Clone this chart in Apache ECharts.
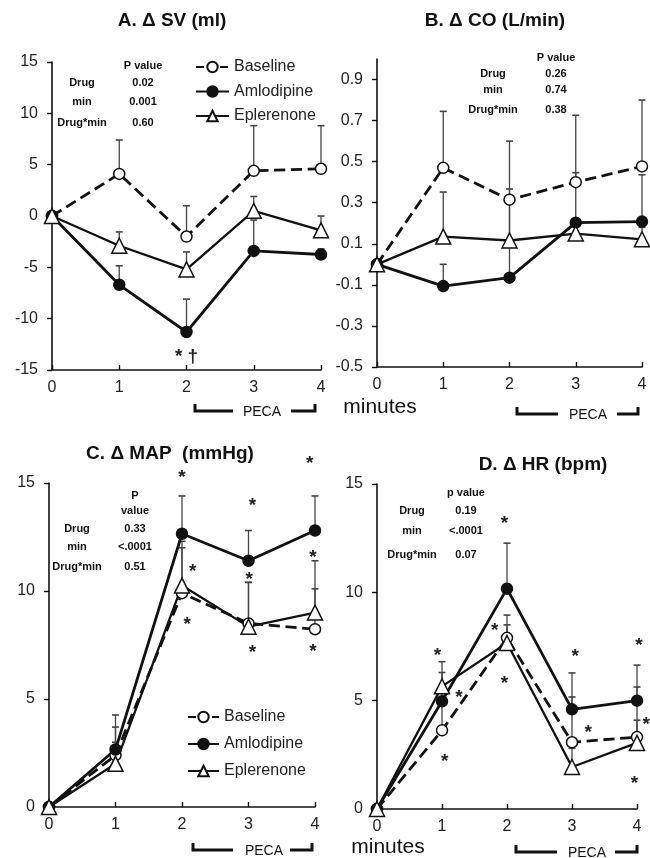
<!DOCTYPE html>
<html>
<head>
<meta charset="utf-8">
<title>SV, CO, MAP, HR</title>
<script src="https://cdn.jsdelivr.net/npm/echarts@6.0.0/dist/echarts.min.js"></script>
<style>
  html, body { margin: 0; padding: 0; background: #fff; }
  #chart { width: 650px; height: 858px; }
</style>
</head>
<body>
<div id="chart"></div>
<script>
const minuts = [0, 1, 2, 3, 4];
const noms = ['Baseline', 'Amlodipine', 'Eplerenone'];
const filesP = ['Drug', 'min', 'Drug*min'];

// A. SV (ml)
const svBaseline = [0, 4.1, -2.0, 4.4, 4.6];
const svBaselineErr = [0, 7.4, 1.0, 8.8, 8.8];
const svAmlo = [0, -6.7, -11.3, -3.4, -3.75];
const svAmloErr = [0, -4.85, -8.1, -0.4, -3.2];
const svEpl = [0, -2.9, -5.2, 0.5, -1.4];
const svEplErr = [0, -1.55, -3.5, 1.9, 0.0];
const svP = ['0.02', '0.001', '0.60'];
const svMarques = [[2, -13.2, '* \u2020']];

// B. CO (L/min)
const coBaseline = [0, 0.47, 0.315, 0.40, 0.477];
const coBaselineErr = [0, 0.745, 0.60, 0.726, 0.80];
const coAmlo = [0, -0.106, -0.065, 0.203, 0.208];
const coAmloErr = [0, 0.0, 0.367, 0.446, 0.436];
const coEpl = [0, 0.135, 0.116, 0.15, 0.122];
const coEplErr = [0, 0.352, 0.30, 0.19, 0.18];
const coP = ['0.26', '0.74', '0.38'];
const coTicks = [-0.5, -0.3, -0.1, 0.1, 0.3, 0.5, 0.7, 0.9];

// C. MAP (mmHg)
const mapBaseline = [0, 2.4, 9.9, 8.5, 8.23];
const mapBaselineErr = [0, 3.7, 12.0, 10.4, 10.1];
const mapAmlo = [0, 2.66, 12.65, 11.4, 12.8];
const mapAmloErr = [0, 4.26, 14.4, 12.8, 14.4];
const mapEpl = [0, 2.0, 10.25, 8.35, 9.0];
const mapEplErr = [0, 3.0, 12.3, 10.4, 11.4];
const mapP = ['0.33', '<.0001', '0.51'];
const mapMarques = [
  [2.0, 15.46, '*'], [2.16, 11.13, '*'], [2.08, 8.66, '*'],
  [3.06, 14.2, '*'], [3.01, 10.75, '*'], [3.06, 7.35, '*'],
  [3.92, 16.1, '*'], [3.97, 11.75, '*'], [3.97, 7.42, '*']
];

// D. HR (bpm)
const hrBaseline = [0, 3.63, 7.9, 3.08, 3.32];
const hrBaselineErr = [0, 5.0, 8.95, 5.17, 5.63];
const hrAmlo = [0, 4.97, 10.17, 4.6, 5.0];
const hrAmloErr = [0, 6.8, 12.27, 6.28, 6.64];
const hrEpl = [0, 5.66, 7.66, 1.94, 3.05];
const hrEplErr = [0, 6.3, 8.5, 2.8, 4.1];
const hrP = ['0.19', '<.0001', '0.07'];
const hrMarques = [
  [0.93, 7.32, '*'], [1.26, 5.35, '*'], [1.04, 2.43, '*'],
  [1.96, 13.38, '*'], [1.81, 8.48, '*'], [1.96, 6.0, '*'],
  [3.05, 7.25, '*'], [3.25, 3.74, '*'],
  [4.03, 7.77, '*'], [4.14, 4.12, '*'], [3.96, 1.38, '*']
];

const FONT = '"Liberation Sans", Arial, sans-serif';
const NEGRE = '#111';

const panells = [
  {
    titol: 'A. \u0394 SV (ml)', titolPos: [172, 21],
    grid: { left: 52, top: 62, width: 269, height: 308 },
    y: { min: -15, max: 15, interval: 5 },
    valors: [svBaseline, svAmlo, svEpl], errors: [svBaselineErr, svAmloErr, svEplErr],
    marques: svMarques, p: svP, pCap: ['P value'], pCapY: 66, pFiles: [83, 102, 123], pLabelX: 82, pValX: 143,
    peca: { x1: 195, xt1: 233, xc: 262, xt2: 291, x2: 315, y: 411 }
  },
  {
    titol: 'B. \u0394 CO (L/min)', titolPos: [495, 21],
    grid: { left: 377, top: 59, width: 265, height: 308 },
    y: { min: -0.5, max: 1.0, custom: coTicks },
    valors: [coBaseline, coAmlo, coEpl], errors: [coBaselineErr, coAmloErr, coEplErr],
    marques: [], p: coP, pCap: ['P value'], pCapY: 58, pFiles: [74, 90, 110], pLabelX: 493, pValX: 556,
    peca: { x1: 517, xt1: 558, xc: 588, xt2: 617, x2: 638, y: 414 },
    minutes: [380, 407]
  },
  {
    titol: 'C. \u0394 MAP  (mmHg)', titolPos: [170, 454],
    grid: { left: 49, top: 483, width: 266, height: 324 },
    y: { min: 0, max: 15, interval: 5 },
    valors: [mapBaseline, mapAmlo, mapEpl], errors: [mapBaselineErr, mapAmloErr, mapEplErr],
    marques: mapMarques, p: mapP, pCap: ['P', 'value'], pCapY: 496, pFiles: [529, 547, 567], pLabelX: 77, pValX: 135,
    peca: { x1: 193, xt1: 233, xc: 264, xt2: 290, x2: 312, y: 850 }
  },
  {
    titol: 'D. \u0394 HR (bpm)', titolPos: [543, 465],
    grid: { left: 377, top: 484, width: 260, height: 325 },
    y: { min: 0, max: 15, interval: 5 },
    valors: [hrBaseline, hrAmlo, hrEpl], errors: [hrBaselineErr, hrAmloErr, hrEplErr],
    marques: hrMarques, p: hrP, pCap: ['p value'], pCapY: 493, pFiles: [511, 531, 555], pLabelX: 412, pValX: 466,
    peca: { x1: 516, xt1: 557, xc: 587, xt2: 615, x2: 637, y: 852 },
    minutes: [388, 847]
  }
];

const estils = [
  { symbol: 'circle', symbolSize: 11, color: '#fff', tipus: 'dashed', amplada: 2.8 },
  { symbol: 'circle', symbolSize: 11, color: NEGRE, tipus: 'solid', amplada: 2.8 },
  { symbol: 'triangle', symbolSize: 15, color: '#fff', tipus: 'solid', amplada: 2.3 }
];

function creaErrorBars(i, panell) {
  const dades = [];
  panell.valors.forEach((vals, s) => {
    vals.forEach((v, k) => {
      const top = panell.errors[s][k];
      if (top !== v) dades.push([minuts[k], v, top]);
    });
  });
  return {
    type: 'custom',
    xAxisIndex: i,
    yAxisIndex: i,
    z: 1,
    silent: true,
    encode: { x: 0, y: [1, 2] },
    data: dades,
    renderItem: (params, api) => {
      const x = api.value(0);
      const base = api.coord([x, api.value(1)]);
      const top = api.coord([x, api.value(2)]);
      return {
        type: 'group',
        children: [
          { type: 'line', shape: { x1: base[0], y1: base[1], x2: top[0], y2: top[1] }, style: { stroke: '#444', lineWidth: 1.3 } },
          { type: 'line', shape: { x1: top[0] - 3.5, y1: top[1], x2: top[0] + 3.5, y2: top[1] }, style: { stroke: '#444', lineWidth: 1.6 } }
        ]
      };
    }
  };
}

function creaMarques(i, marques) {
  return {
    type: 'custom',
    xAxisIndex: i,
    yAxisIndex: i,
    z: 5,
    silent: true,
    clip: false,
    encode: { x: 0, y: 1 },
    data: marques.map((m) => [m[0], m[1]]),
    renderItem: (params, api) => {
      const p = api.coord([api.value(0), api.value(1)]);
      return {
        type: 'text',
        x: p[0],
        y: p[1] + 5,
        style: {
          text: marques[params.dataIndex][2],
          font: 'bold 19px ' + FONT,
          fill: '#222',
          align: 'center',
          verticalAlign: 'middle'
        }
      };
    }
  };
}

function text(x, y, contingut, font, align) {
  return {
    type: 'text', x, y, silent: true,
    style: { text: contingut, font, fill: NEGRE, align: align || 'center', verticalAlign: 'middle' }
  };
}

const grids = [];
const xAxes = [];
const yAxes = [];
const series = [];
const grafics = [];

panells.forEach((panell, i) => {
  grids.push(Object.assign({ outerBoundsMode: 'none', containLabel: false }, panell.grid));

  xAxes.push({
    type: 'value', gridIndex: i, min: 0, max: 4, interval: 1,
    axisLine: { onZero: false, lineStyle: { color: NEGRE, width: 1.6 } },
    axisTick: { inside: true, length: 5, lineStyle: { color: NEGRE, width: 1.4 } },
    axisLabel: { color: '#222', fontSize: 16, fontFamily: FONT, margin: 10 },
    splitLine: { show: false }
  });

  const eixY = {
    type: 'value', gridIndex: i, min: panell.y.min, max: panell.y.max,
    axisLine: { show: true, lineStyle: { color: NEGRE, width: 1.6 } },
    axisTick: { show: true, length: 5, lineStyle: { color: NEGRE, width: 1.4 } },
    axisLabel: { color: '#222', fontSize: 16, fontFamily: FONT, margin: 14 },
    splitLine: { show: false }
  };
  if (panell.y.custom) {
    eixY.axisTick.customValues = panell.y.custom;
    eixY.axisLabel.customValues = panell.y.custom;
    eixY.axisLabel.formatter = (v) => Number(v).toFixed(1);
  } else {
    eixY.interval = panell.y.interval;
  }
  yAxes.push(eixY);

  series.push(creaErrorBars(i, panell));
  panell.valors.forEach((vals, s) => {
    const e = estils[s];
    series.push({
      type: 'line',
      name: noms[s],
      xAxisIndex: i,
      yAxisIndex: i,
      z: 3,
      symbol: e.symbol,
      symbolSize: e.symbolSize,
      showAllSymbol: true,
      silent: true,
      lineStyle: { color: NEGRE, width: e.amplada, type: e.tipus },
      itemStyle: { color: e.color, borderColor: NEGRE, borderWidth: 1.5 },
      data: minuts.map((m, k) => [m, vals[k]])
    });
  });
  if (panell.marques.length) series.push(creaMarques(i, panell.marques));

  // titol
  grafics.push(text(panell.titolPos[0], panell.titolPos[1], panell.titol, 'bold 19px ' + FONT));

  // taula de p
  const fontP = 'bold 11px ' + FONT;
  panell.pCap.forEach((c, k) => {
    grafics.push(text(panell.pValX, panell.pCapY + k * 15, c, fontP));
  });
  filesP.forEach((f, k) => {
    grafics.push(text(panell.pLabelX, panell.pFiles[k], f, fontP));
    grafics.push(text(panell.pValX, panell.pFiles[k], panell.p[k], fontP));
  });

  // PECA
  const pc = panell.peca;
  grafics.push({
    type: 'polyline', silent: true,
    shape: { points: [[pc.x1, pc.y - 7], [pc.x1, pc.y], [pc.xt1, pc.y]] },
    style: { stroke: NEGRE, lineWidth: 3, fill: null }
  });
  grafics.push({
    type: 'polyline', silent: true,
    shape: { points: [[pc.xt2, pc.y], [pc.x2, pc.y], [pc.x2, pc.y - 7]] },
    style: { stroke: NEGRE, lineWidth: 3, fill: null }
  });
  grafics.push(text(pc.xc, pc.y + 1, 'PECA', '14px ' + FONT));

  if (panell.minutes) {
    grafics.push(text(panell.minutes[0], panell.minutes[1], 'minutes', '21px ' + FONT));
  }
});

const llegenda = {
  orient: 'vertical',
  data: noms,
  itemHeight: 13,
  textStyle: { color: '#222', fontSize: 16, fontFamily: FONT },
  selectedMode: false
};

const chart = echarts.init(document.getElementById('chart'), null, { renderer: 'canvas' });
chart.setOption({
  animation: false,
  backgroundColor: '#fff',
  legend: [
    Object.assign({ left: 190, top: 54, itemGap: 8.5, itemWidth: 33 }, llegenda),
    Object.assign({ left: 182, top: 704, itemGap: 11, itemWidth: 31 }, llegenda)
  ],
  grid: grids,
  xAxis: xAxes,
  yAxis: yAxes,
  series: series,
  graphic: grafics
});
</script>
</body>
</html>
